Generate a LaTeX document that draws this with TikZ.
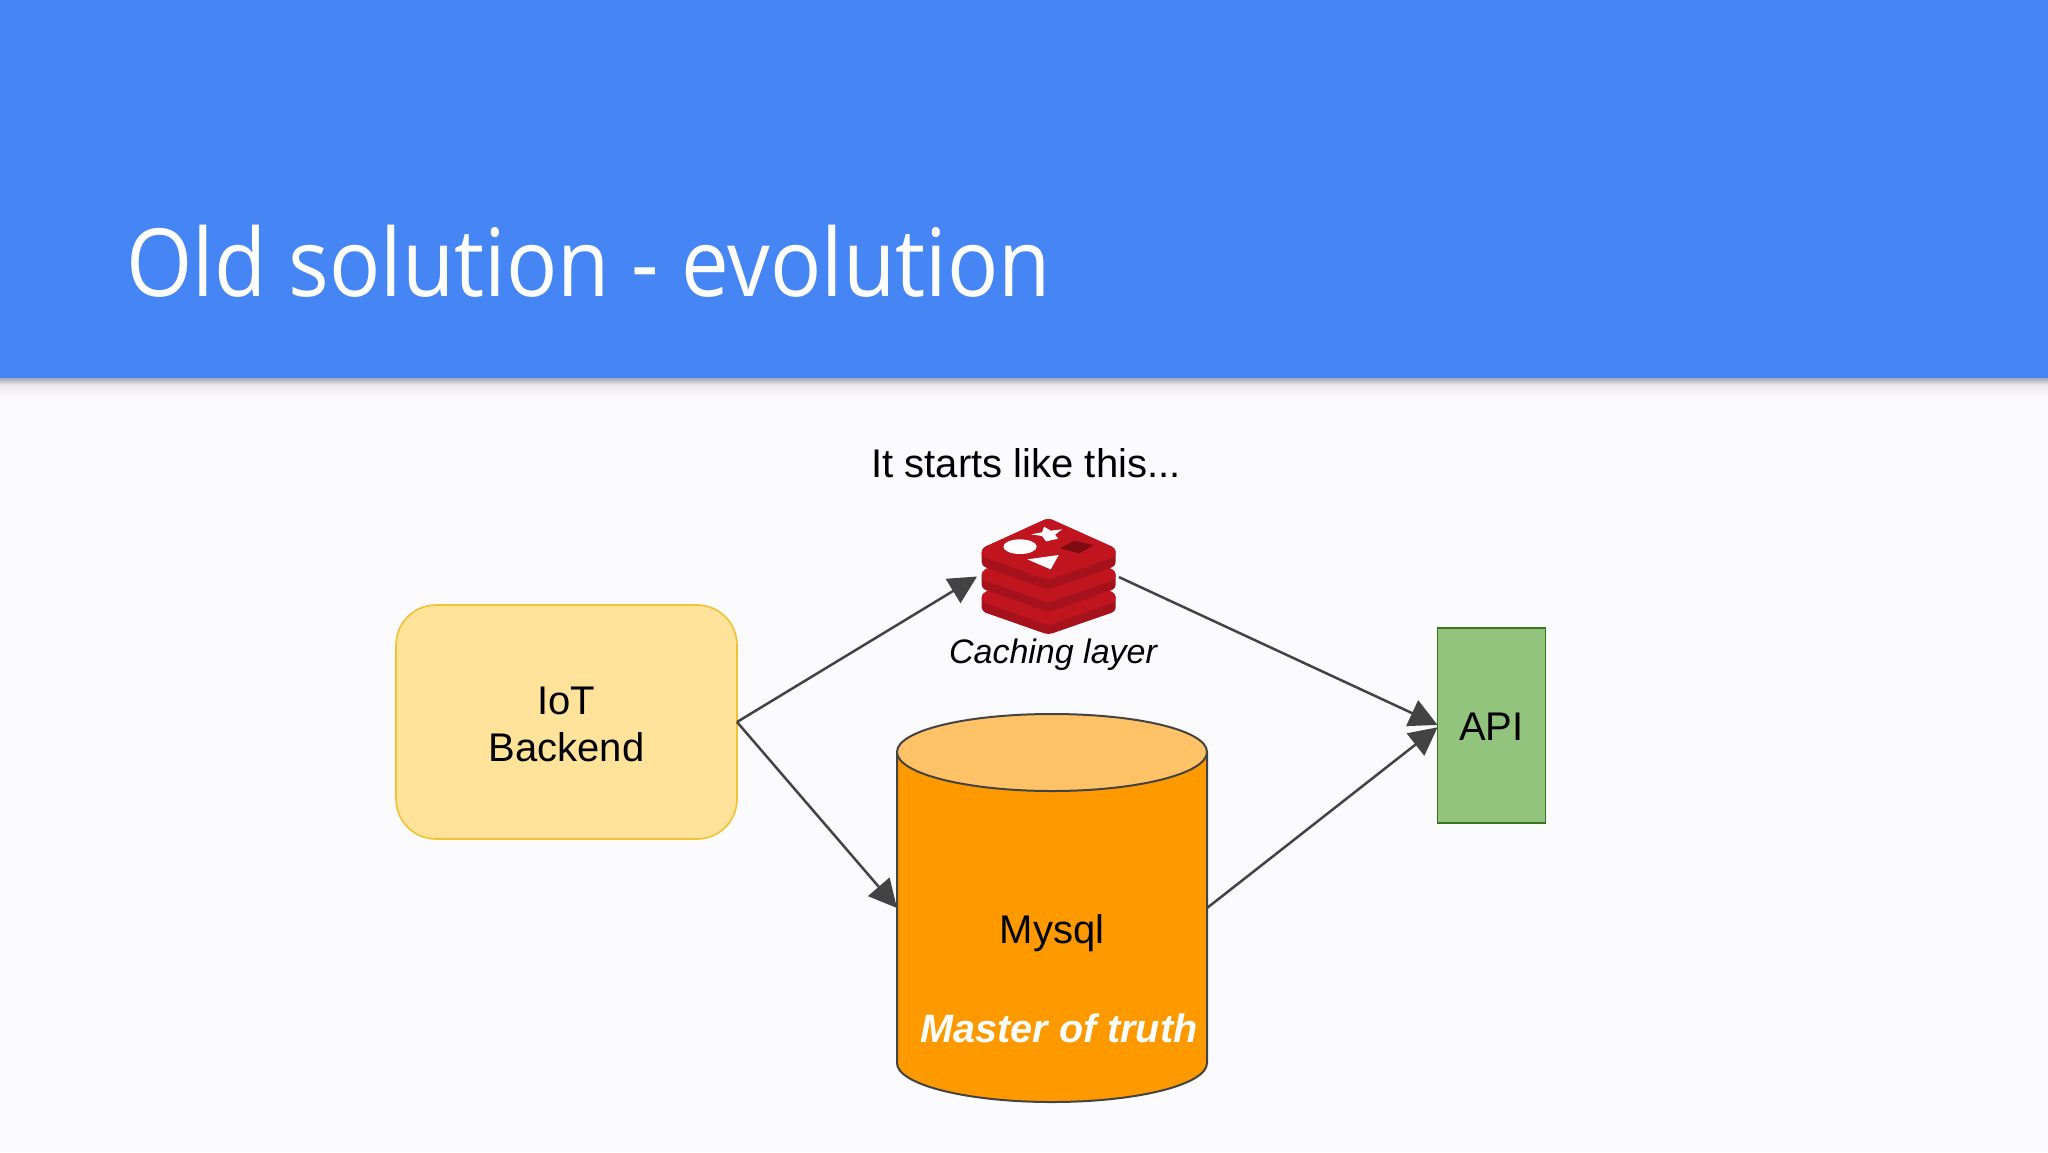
\documentclass[tikz,border=0pt]{standalone}
\usepackage{fontspec}
\setmainfont{Liberation Sans}
\newfontfamily\titlefont[FakeStretch=0.906]{Open Sans}
\usetikzlibrary{arrows.meta}
\definecolor{bluehead}{HTML}{4585F4}
\definecolor{pagebg}{HTML}{FBFAFD}
\definecolor{shadowa}{HTML}{9AA0B0}
\definecolor{shadowb}{HTML}{EDEAED}
\definecolor{iotfill}{HTML}{FFE39B}
\definecolor{iotline}{HTML}{F1C232}
\definecolor{apifill}{HTML}{93C47D}
\definecolor{apiline}{HTML}{38761D}
\definecolor{dbfill}{HTML}{FF9900}
\definecolor{dbtop}{HTML}{FFC266}
\definecolor{conn}{HTML}{434343}
\definecolor{redface}{HTML}{C0141F}
\definecolor{redside}{HTML}{A6121C}
\definecolor{reddark}{HTML}{7C0C12}
\tikzset{
  txt/.style={inner sep=0pt,outer sep=0pt,align=center,text=black,font=\fontsize{20}{23.5}\selectfont},
  ghost/.style={inner sep=0pt,outer sep=0pt},
  iotbox/.style={draw=iotline,fill=iotfill,line width=0.8pt,rounded corners=20pt,inner sep=0pt,outer sep=0pt,minimum width=170.5pt,minimum height=117pt,align=center,font=\fontsize{20}{23.5}\selectfont},
  apibox/.style={draw=apiline,fill=apifill,line width=0.8pt,inner sep=0pt,outer sep=0pt,minimum width=54pt,minimum height=97.5pt,font=\fontsize{20}{23.5}\selectfont},
  link/.style={draw=conn,line width=1.25pt,-{Triangle[length=14pt,width=14pt,color=conn]},shorten >=0pt},
  dbline/.style={draw=conn,line width=1pt},
}
\begin{document}
\begin{tikzpicture}[x=0.5pt,y=-0.5pt]
\useasboundingbox (0,0) rectangle (2048,1152);
\fill[pagebg] (0,0) rectangle (2048,1152);
\shade[top color=shadowa,bottom color=shadowb] (0,377) rectangle (2048,385);
\shade[top color=shadowb,bottom color=pagebg] (0,385) rectangle (2048,397);
\fill[bluehead] (0,0) rectangle (2048,377.5);
\node[anchor=base west,inner sep=0pt,text=white,font=\titlefont\fontsize{47}{56}\selectfont] (title) at (126,296) {Old solution - evolution};
\node[txt] (intro) at (1026,463) {It starts like this...};
% IoT
\node[iotbox] (iot) at (566.5,722) {\rule{0pt}{16.2pt}IoT\\[0.3pt]Backend};
% API
\node[apibox,text depth=0pt] (api) at (1491.5,725.5) {\raisebox{-1pt}{API}};
% Cylinder
\node[ghost,minimum width=155pt,minimum height=194pt] (db) at (1052,908) {};
\path[fill=dbfill,dbline] (897,752) -- (897,1063) .. controls (897,1084.5) and (966.4,1102) .. (1052,1102) .. controls (1137.6,1102) and (1207,1084.5) .. (1207,1063) -- (1207,752) -- cycle;
\path[fill=dbtop,dbline] (897,752) .. controls (897,730.5) and (966.4,714) .. (1052,714) .. controls (1137.6,714) and (1207,730.5) .. (1207,752) .. controls (1207,773.5) and (1137.6,791) .. (1052,791) .. controls (966.4,791) and (897,773.5) .. (897,752) -- cycle;
\node[txt] (mysql) at (1052,933) {Mysql};
\node[txt,text=white,font=\bfseries\itshape\fontsize{19.8}{23}\selectfont] (master) at (1059,1028) {Master of truth};
% Redis logo
\node[ghost,minimum width=71pt,minimum height=56.5pt] (redis) at (1048,576.5) {};
\begin{scope}[shift={(920,500)},x=0.1667pt,y=-0.1667pt]
  \foreach \d in {136,68,0}{
    \fill[redside,rounded corners=2pt] (185,145+\d) -- (385,54+\d) -- (587,145+\d) -- (587,198+\d) -- (385,268+\d) -- (185,198+\d) -- cycle;
    \fill[redface,rounded corners=2pt] (185,145+\d) -- (385,54+\d) -- (587,145+\d) -- (587,170+\d) -- (385,240+\d) -- (185,170+\d) -- cycle;
  }
  \fill[white] (300,140) ellipse [x radius=50,y radius=22];
  \fill[white] (322,178) -- (416,165) -- (392,208) -- cycle;
  \fill[white] (333,103) -- (366,97) -- (372,80) -- (392,92) -- (426,88) -- (405,104) -- (414,116) -- (378,124) -- (366,108) -- cycle;
  \fill[reddark] (420,145) -- (462,122) -- (520,135) -- (478,160) -- cycle;
\end{scope}
\node[txt,font=\itshape\fontsize{17}{20}\selectfont] (cache) at (1053,655) {Caching layer};
% Connectors
\draw[link] (iot.east) -- (redis.west);
\draw[link] (iot.east) -- (db.west);
\draw[link] ([yshift=-0.3pt]redis.east) -- ([yshift=0.3pt]api.west);
\draw[link] (db.east) -- ([yshift=-0.9pt]api.west);
\end{tikzpicture}
\end{document}
